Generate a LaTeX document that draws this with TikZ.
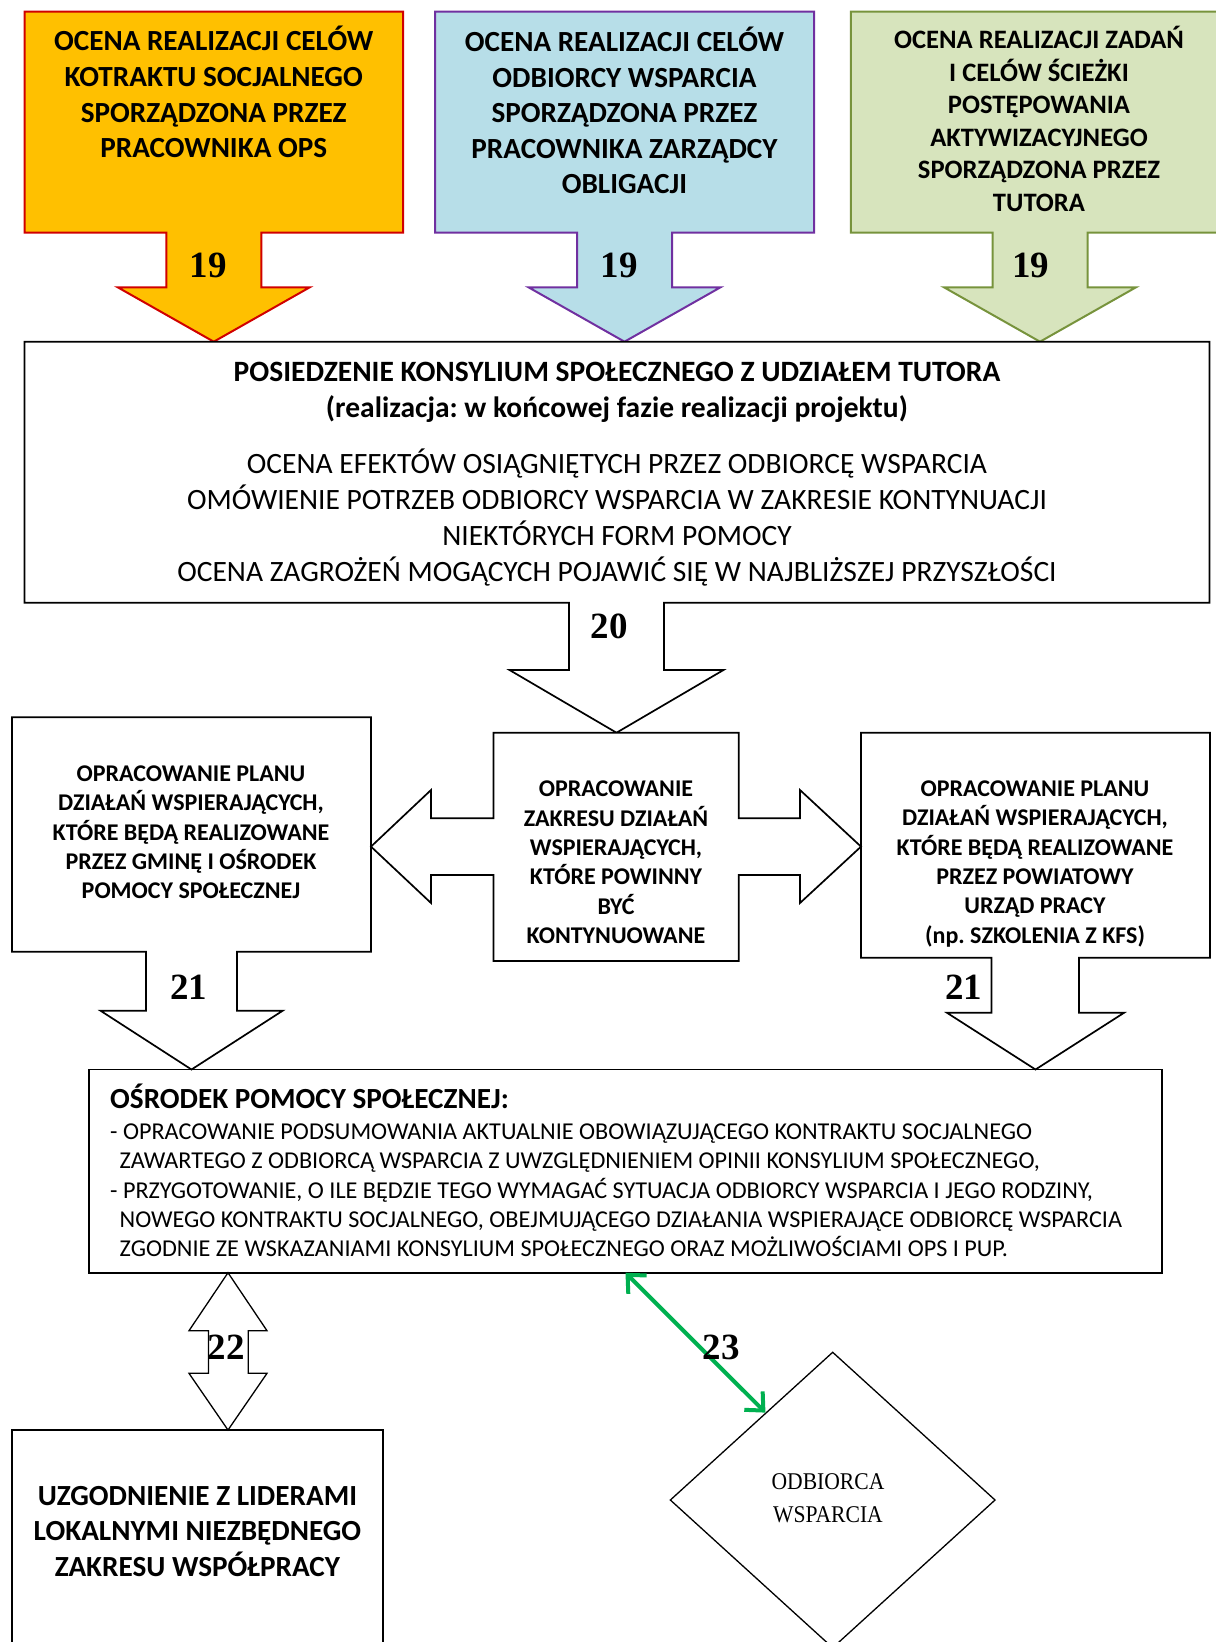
\documentclass[tikz,border=0pt]{standalone}
\usepackage{fontspec}
\setmainfont{Carlito}
\newfontfamily\numfont{Liberation Serif}
\newfontfamily\timesfont[FakeStretch=0.9]{Liberation Serif}
\usetikzlibrary{shapes.geometric,arrows.meta,calc}
\definecolor{gold}{HTML}{FFC000}
\definecolor{goldline}{HTML}{D00000}
\definecolor{aqua}{HTML}{B7DEE8}
\definecolor{aqualine}{HTML}{7030A0}
\definecolor{olive}{HTML}{D7E4BD}
\definecolor{oliveline}{HTML}{77933C}
\definecolor{arrowgreen}{HTML}{00B050}
\frenchspacing
\begin{document}
\begin{tikzpicture}[x=1pt,y=-1pt,
  callout/.style={line width=1.7pt, line join=miter, draw=black, fill=white},
  txtbig/.style={align=center, inner sep=0pt, font=\fontsize{29.2}{35.6}\selectfont\bfseries},
  txtgreen/.style={align=center, inner sep=0pt, font=\fontsize{26.6}{32.5}\selectfont\bfseries},
  txtmid/.style={align=center, inner sep=0pt, font=\fontsize{24}{29.3}\selectfont\bfseries},
  num/.style={inner sep=0pt, font=\fontsize{37}{40}\selectfont\numfont\bfseries},
]
\useasboundingbox (0,0) rectangle (1216,1642);
\clip (0,0) rectangle (1216,1642);

% --- top callouts ---
\draw[line width=2pt, draw=goldline, fill=gold]
  (24.5,11.7) -- (403,11.7) -- (403,232.7) -- (261.25,232.7) -- (261.25,287.3)
  -- (309.75,287.3) -- (213.75,341.7) -- (117.75,287.3) -- (166.25,287.3)
  -- (166.25,232.7) -- (24.5,232.7) -- cycle;
\draw[line width=2pt, draw=aqualine, fill=aqua]
  (435,11.7) -- (814,11.7) -- (814,232.7) -- (672,232.7) -- (672,287.3)
  -- (720.5,287.3) -- (624.5,341.7) -- (528.5,287.3) -- (577,287.3)
  -- (577,232.7) -- (435,232.7) -- cycle;
\draw[line width=2pt, draw=oliveline, fill=olive]
  (850.75,11.7) -- (1229.25,11.7) -- (1229.25,232.7) -- (1087.5,232.7) -- (1087.5,287.3)
  -- (1136,287.3) -- (1040,341.7) -- (944,287.3) -- (992.5,287.3)
  -- (992.5,232.7) -- (850.75,232.7) -- cycle;

\node[txtbig] (t1) at (213.75,92.2) {OCENA REALIZACJI CELÓW\\KOTRAKTU SOCJALNEGO\\SPORZĄDZONA PRZEZ\\PRACOWNIKA OPS};
\node[txtbig] (t2) at (624.5,110.5) {OCENA REALIZACJI CELÓW\\ODBIORCY WSPARCIA\\SPORZĄDZONA PRZEZ\\PRACOWNIKA ZARZĄDCY\\OBLIGACJI};
\node[txtgreen] (t3) at (1039,119) {OCENA REALIZACJI ZADAŃ\\I CELÓW ŚCIEŻKI\\POSTĘPOWANIA\\AKTYWIZACYJNEGO\\SPORZĄDZONA PRZEZ\\TUTORA};
\node[num] (n19a) at (208,265.5) {19};
\node[num] (n19b) at (619,265.5) {19};
\node[num] (n19c) at (1030.5,265.5) {19};

% --- big box ---
\draw[callout]
  (24.5,341.7) -- (1209.5,341.7) -- (1209.5,602.7) -- (664,602.7) -- (664,670)
  -- (723.5,670) -- (616.5,732.7) -- (509.5,670) -- (569,670) -- (569,602.7)
  -- (24.5,602.7) -- cycle;
\node[align=center, inner sep=0pt, font=\fontsize{29.5}{35.6}\selectfont\bfseries] (kons) at (617,392.6) {POSIEDZENIE KONSYLIUM SPOŁECZNEGO Z UDZIAŁEM TUTORA\\(realizacja: w końcowej fazie realizacji projektu)};
\node[align=center, inner sep=0pt, font=\fontsize{29.5}{35.9}\selectfont] (konsb) at (617,517.5)
  {OCENA EFEKTÓW OSIĄGNIĘTYCH PRZEZ ODBIORCĘ WSPARCIA\\OMÓWIENIE POTRZEB ODBIORCY WSPARCIA W ZAKRESIE KONTYNUACJI\\NIEKTÓRYCH FORM POMOCY\\OCENA ZAGROŻEŃ MOGĄCYCH POJAWIĆ SIĘ W NAJBLIŻSZEJ PRZYSZŁOŚCI};
\node[num] (n20) at (609,626.5) {20};

% --- middle row ---
\draw[callout]
  (12,717.3) -- (371,717.3) -- (371,951.7) -- (237,951.7) -- (237,1010.7)
  -- (282.7,1010.7) -- (191.5,1069.5) -- (100.5,1010.7) -- (146,1010.7)
  -- (146,951.7) -- (12,951.7) -- cycle;
\draw[callout]
  (861,732.7) -- (1210,732.7) -- (1210,957.7) -- (1079,957.7) -- (1079,1012.8)
  -- (1124,1012.8) -- (1035.5,1069.5) -- (947,1012.8) -- (991.5,1012.8)
  -- (991.5,957.7) -- (861,957.7) -- cycle;
\draw[callout]
  (493.5,732.7) -- (738.7,732.7) -- (738.7,818.3) -- (800,818.3) -- (800,790)
  -- (861,846.6) -- (800,903) -- (800,875) -- (738.7,875) -- (738.7,961)
  -- (493.5,961) -- (493.5,875) -- (431,875) -- (431,903) -- (371,846.6)
  -- (431,790) -- (431,818.3) -- (493.5,818.3) -- cycle;

\node[txtmid] (lbox) at (191,832.3) {OPRACOWANIE PLANU\\DZIAŁAŃ WSPIERAJĄCYCH,\\KTÓRE BĘDĄ REALIZOWANE\\PRZEZ GMINĘ I OŚRODEK\\POMOCY SPOŁECZNEJ};
\node[txtmid] (mbox) at (616,862.3) {OPRACOWANIE\\ZAKRESU DZIAŁAŃ\\WSPIERAJĄCYCH,\\KTÓRE POWINNY\\BYĆ\\KONTYNUOWANE};
\node[txtmid] (rbox) at (1035,863.8) {OPRACOWANIE PLANU\\DZIAŁAŃ WSPIERAJĄCYCH,\\KTÓRE BĘDĄ REALIZOWANE\\PRZEZ POWIATOWY\\URZĄD PRACY\\(np. SZKOLENIA Z KFS)};
\node[num] (n21a) at (188.6,987.5) {21};
\node[num] (n21b) at (963.5,987) {21};

% --- OPS box ---
\node[draw, line width=1.7pt, inner sep=0pt, outer sep=0pt, minimum width=1073pt, minimum height=203.2pt, anchor=north west] (ops) at (89,1069.5) {};
\node[anchor=west, inner sep=0pt, font=\fontsize{29.2}{35}\selectfont\bfseries] (opst) at (110,1096.7) {OŚRODEK POMOCY SPOŁECZNEJ:};
\node[anchor=west, align=left, inner sep=0pt, font=\fontsize{24.2}{29.3}\selectfont] (opsb) at (110,1190.5)
  {- OPRACOWANIE PODSUMOWANIA AKTUALNIE OBOWIĄZUJĄCEGO KONTRAKTU SOCJALNEGO\\
   \hspace*{9.5pt}ZAWARTEGO Z ODBIORCĄ WSPARCIA Z UWZGLĘDNIENIEM OPINII KONSYLIUM SPOŁECZNEGO,\\
   - PRZYGOTOWANIE, O ILE BĘDZIE TEGO WYMAGAĆ SYTUACJA ODBIORCY WSPARCIA I JEGO RODZINY,\\
   \hspace*{9.5pt}NOWEGO KONTRAKTU SOCJALNEGO, OBEJMUJĄCEGO DZIAŁANIA WSPIERAJĄCE ODBIORCĘ WSPARCIA\\
   \hspace*{9.5pt}ZGODNIE ZE WSKAZANIAMI KONSYLIUM SPOŁECZNEGO ORAZ MOŻLIWOŚCIAMI OPS I PUP.};

% --- bottom ---
\draw[line width=1.3pt, fill=white]
  (228,1272.7) -- (267,1330.7) -- (248.3,1330.7) -- (248.3,1373.3) -- (267,1373.3)
  -- (228,1430) -- (189,1373.3) -- (208.4,1373.3) -- (208.4,1330.7) -- (189,1330.7) -- cycle;
\node[num] (n22) at (226.4,1347.5) {22};
\draw[line width=1.7pt] (12,1430) rectangle (382.8,1660);
\node[txtbig] (lid) at (197.4,1531.3) {UZGODNIENIE Z LIDERAMI\\LOKALNYMI NIEZBĘDNEGO\\ZAKRESU WSPÓŁPRACY};

\node[draw, shape=diamond, line width=1.3pt, inner sep=0pt, minimum width=325.2pt, minimum height=296pt] (dia) at (832.7,1500) {};
\node[align=center, inner sep=0pt, font=\fontsize{24}{32.5}\selectfont\timesfont] (diat) at (828,1498) {ODBIORCA\\WSPARCIA};

\draw[draw=arrowgreen, line width=4pt, {Straight Barb[length=14pt,width=26pt]}-{Straight Barb[length=14pt,width=26pt]}]
  (ops.south) -- ($(dia.north)!0.412!(dia.west)$);
\node[num] (n23) at (721,1347.5) {23};
\end{tikzpicture}
\end{document}
